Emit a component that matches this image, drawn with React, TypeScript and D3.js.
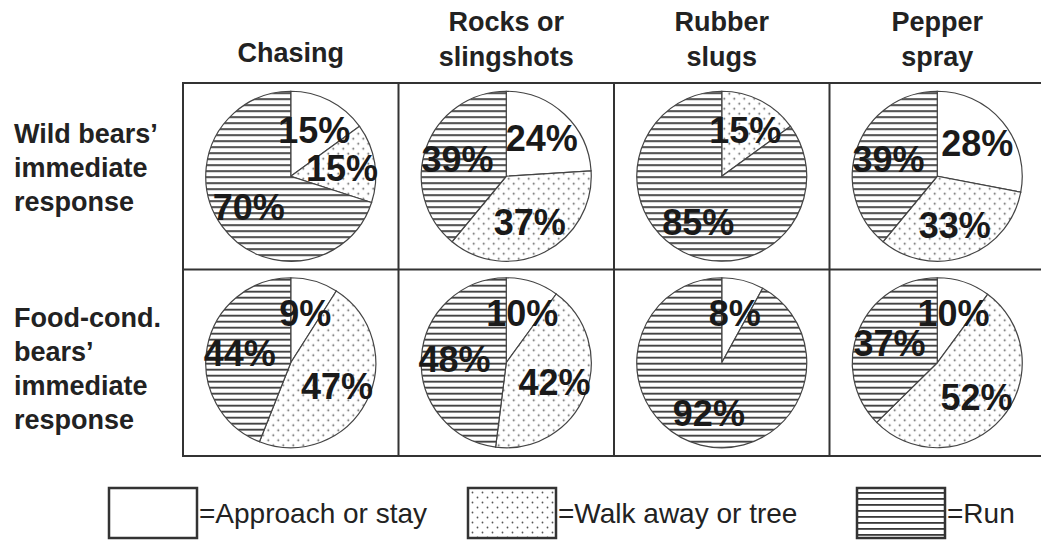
import React from "react";
import * as d3 from "d3";

const categories = ["Chasing", "Rocks or slingshots", "Rubber slugs", "Pepper spray"];
const headerLines = [["Chasing"], ["Rocks or", "slingshots"], ["Rubber", "slugs"], ["Pepper", "spray"]];
const groups = ["wild", "food"];
const groupLines = [
  ["Wild bears’", "immediate", "response"],
  ["Food-cond.", "bears’", "immediate", "response"],
];
const responses = ["Approach or stay", "Walk away or tree", "Run"];
// order: approach, walk away, run
const wildValues = [
  [15, 15, 70],
  [24, 37, 39],
  [0, 15, 85],
  [28, 33, 39],
];
const foodValues = [
  [9, 47, 44],
  [10, 42, 48],
  [8, 0, 92],
  [10, 52, 37],
];
const groupValues = [wildValues, foodValues];

const W = 1041;
const H = 546;
const fills = ["#ffffff", "url(#dots)", "url(#stripes)"];
const FONT = "'Liberation Sans', Arial, Helvetica, sans-serif";

export default function App() {
  const x = d3.scaleBand<string>().domain(categories).range([183, 1045]).padding(0);
  const y = d3.scaleBand<string>().domain(groups).range([83, 456]).padding(0);
  const R = 85;
  const pie = d3.pie<number>().sort(null).value((d) => d);
  const arc = d3.arc<d3.PieArcDatum<number>>().innerRadius(0).outerRadius(R);
  const labelArc = d3.arc<d3.PieArcDatum<number>>().innerRadius(0).outerRadius(R * 1.22);

  const legendX = [109, 468, 857];

  return (
    <svg width={W} height={H} style={{ position: "absolute", left: 0, top: 0, background: "#fff" }} fontFamily={FONT}>
      <defs>
        <pattern id="stripes" patternUnits="userSpaceOnUse" width={8} height={6}>
          <rect width={8} height={6} fill="#fff" />
          <rect y={0} width={8} height={1.8} fill="#3a3a3a" />
        </pattern>
        <pattern id="dots" patternUnits="userSpaceOnUse" width={10} height={10}>
          <rect width={10} height={10} fill="#fff" />
          <circle cx={2.5} cy={2.5} r={0.9} fill="#555" />
          <circle cx={7.5} cy={7.5} r={0.9} fill="#555" />
        </pattern>
      </defs>

      {/* column headers */}
      {categories.map((c, i) => {
        const cx = (x(c) as number) + x.bandwidth() / 2;
        const lines = headerLines[i];
        const baseYs = lines.length === 1 ? [62] : [31, 66];
        return lines.map((t, j) => (
          <text key={c + j} x={cx} y={baseYs[j]} textAnchor="middle" fontWeight="bold" fontSize={27} fill="#222">
            {t}
          </text>
        ));
      })}

      {/* row labels */}
      {groups.map((g, gi) => {
        const top = y(g) as number;
        const lines = groupLines[gi];
        const first = gi === 0 ? top + 60 : top + 57;
        return lines.map((t, j) => (
          <text key={g + j} x={14} y={first + j * 34} fontWeight="bold" fontSize={27} fill="#222">
            {t}
          </text>
        ));
      })}

      {/* pies */}
      {groups.map((g, gi) =>
        categories.map((c, ci) => {
          const cx = (x(c) as number) + x.bandwidth() / 2;
          const cy = (y(g) as number) + y.bandwidth() / 2;
          const arcs = pie(groupValues[gi][ci]);
          return (
            <g key={g + c} transform={`translate(${cx},${cy})`}>
              {arcs.map((a, k) =>
                a.value > 0 ? (
                  <path key={k} d={arc(a) as string} fill={fills[k]} stroke="#444" strokeWidth={1.2} />
                ) : null
              )}
              {arcs.map((a, k) => {
                if (a.value <= 0) return null;
                const [lx, ly] = labelArc.centroid(a);
                return (
                  <text key={"t" + k} x={lx} y={ly} dy="0.36em" textAnchor="middle" fontWeight="bold" fontSize={36} fill="#1a1a1a">
                    {a.value}%
                  </text>
                );
              })}
            </g>
          );
        })
      )}

      {/* grid */}
      <g stroke="#333" strokeWidth={2} fill="none">
        <rect x={183} y={83} width={1045 - 183} height={456 - 83} />
        {categories.slice(1).map((c) => (
          <line key={c} x1={x(c) as number} x2={x(c) as number} y1={83} y2={456} />
        ))}
        <line x1={183} x2={1045} y1={y(groups[1]) as number} y2={y(groups[1]) as number} />
      </g>

      {/* legend */}
      {responses.map((r, i) => (
        <g key={r}>
          <rect x={legendX[i]} y={488} width={88} height={50} fill={fills[i]} stroke="#333" strokeWidth={2.5} />
          <text x={legendX[i] + 90} y={523} fontSize={28} fill="#222">
            ={r}
          </text>
        </g>
      ))}
    </svg>
  );
}
